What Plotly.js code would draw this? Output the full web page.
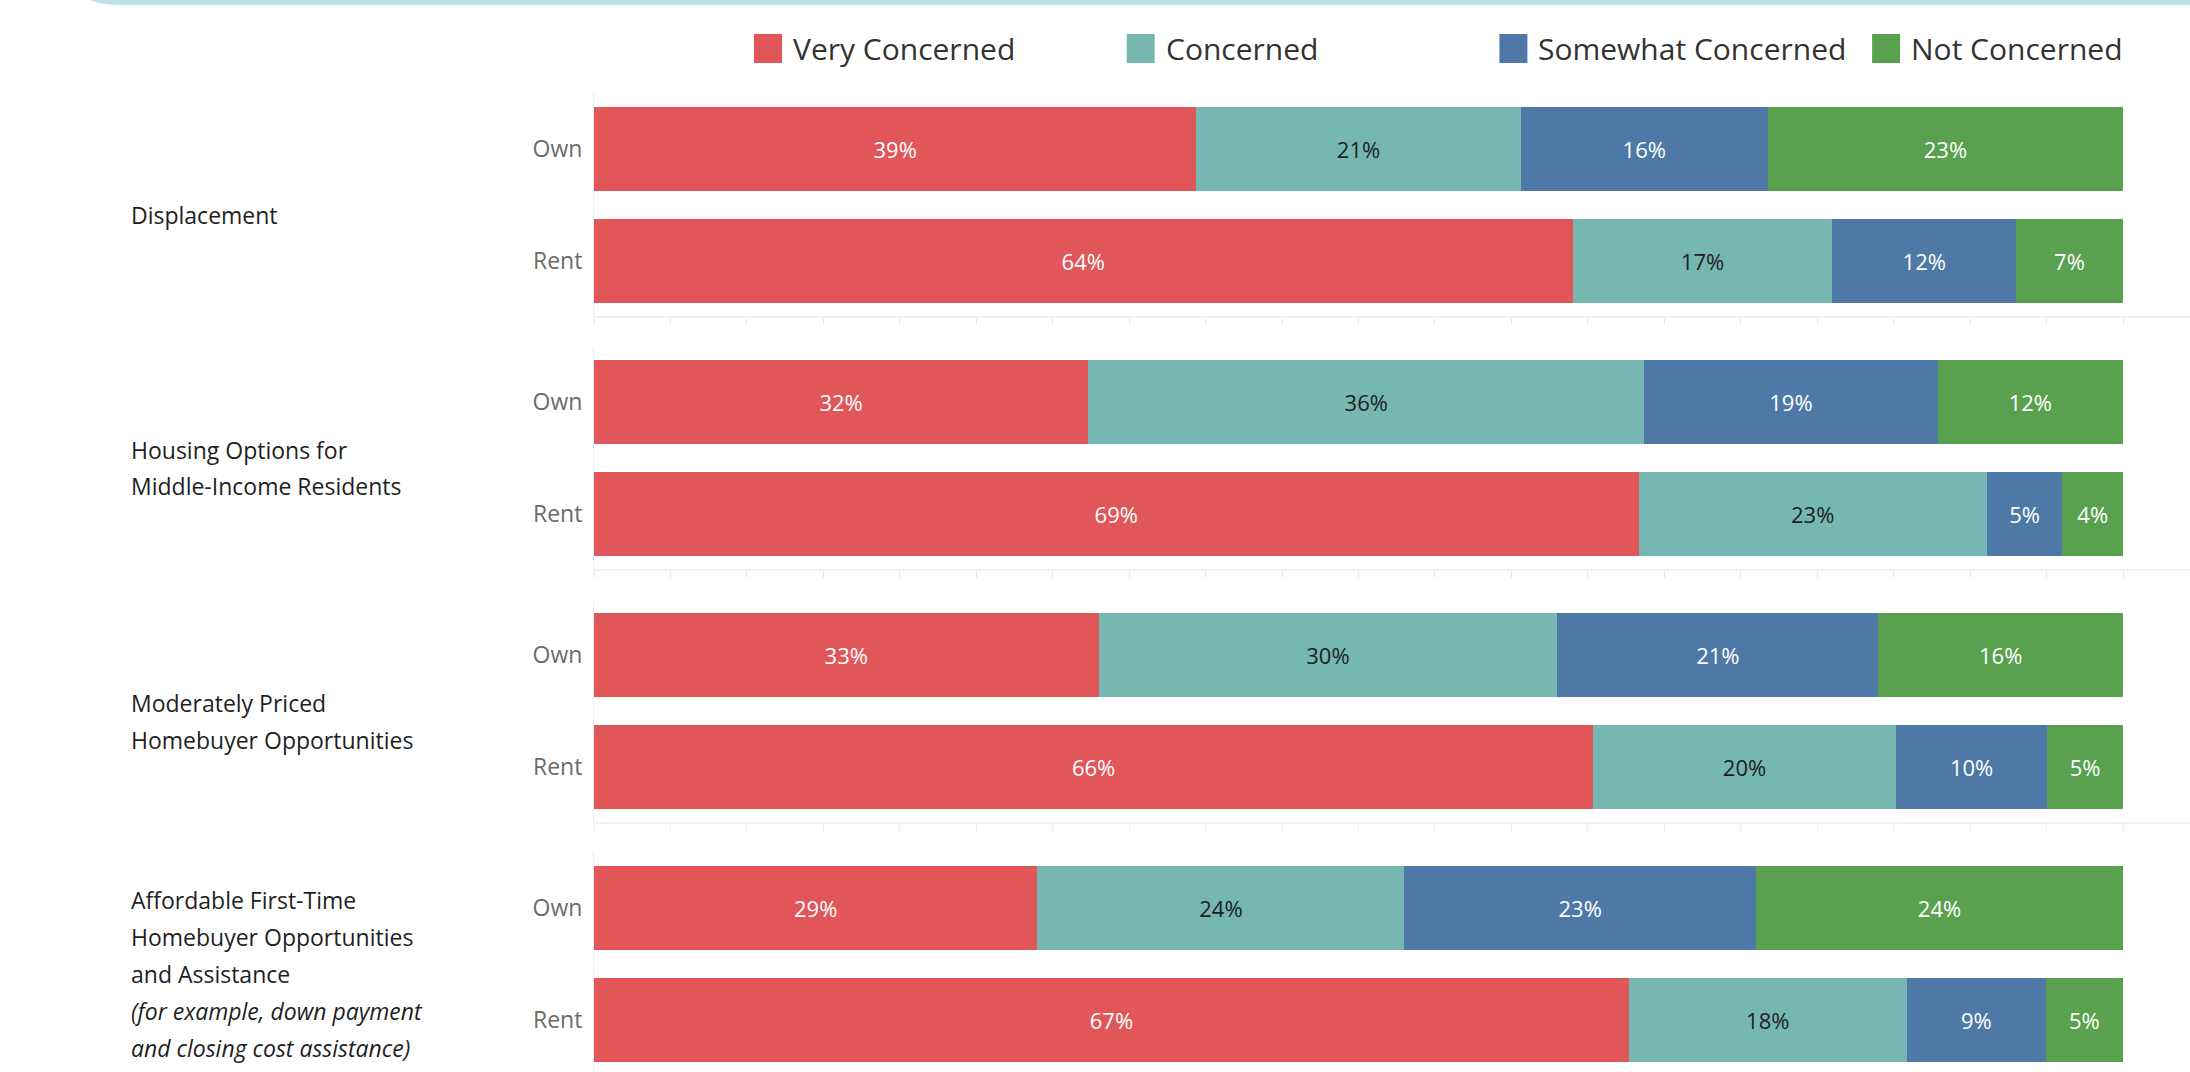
<!DOCTYPE html>
<html>
<head>
<meta charset="utf-8">
<script src="https://cdn.plot.ly/plotly-3.0.1.min.js"></script>
<style>
  html, body { margin: 0; padding: 0; background: #ffffff; }
  #chart { width: 2190px; height: 1072px; }
</style>
</head>
<body>
<div id="chart"></div>
<script>
// ---------------- DATA ----------------
const groupLabelLines = [
  ['Displacement'],
  ['Housing Options for', 'Middle-Income Residents'],
  ['Moderately Priced', 'Homebuyer Opportunities'],
  ['Affordable First-Time', 'Homebuyer Opportunities', 'and Assistance',
   '<i>(for example, down payment</i>', '<i>and closing cost assistance)</i>']
];
const tenure = ['Own', 'Rent'];
const seriesNames = ['Very Concerned', 'Concerned', 'Somewhat Concerned', 'Not Concerned'];
const seriesColors = ['#e15759', '#76b7b2', '#4e79a7', '#59a14f'];
const labelColors = ['#ffffff', '#1e1e1e', '#ffffff', '#ffffff'];

// per group: [Own, Rent]
const veryConcerned      = [[39, 64], [32, 69], [33, 66], [29, 67]];
const concerned          = [[21, 17], [36, 23], [30, 20], [24, 18]];
const somewhatConcerned  = [[16, 12], [19, 5],  [21, 10], [23, 9]];
const notConcerned       = [[23, 7],  [12, 4],  [16, 5],  [24, 5]];
const seriesValues = [veryConcerned, concerned, somewhatConcerned, notConcerned];

// ---------------- LAYOUT HELPERS ----------------
const W = 2190, H = 1072;
const px2x = p => p / W;
const px2y = p => 1 - p / H;

const plotLeft = 594, plotRight = 2123;
const paneTops = [93, 346, 599, 852];
const paneH = 224;
const catPx = paneH / 2;

const traces = [];
const layout = {
  width: W, height: H,
  margin: {l: 0, r: 0, t: 0, b: 0},
  paper_bgcolor: '#ffffff',
  plot_bgcolor: 'rgba(0,0,0,0)',
  barmode: 'stack',
  barnorm: 'fraction',
  bargap: 0.25,
  showlegend: false,
  font: {family: 'Open Sans, Noto Sans, sans-serif', color: '#333'},
  shapes: [],
  annotations: []
};

groupLabelLines.forEach((lines, g) => {
  const n = g === 0 ? '' : String(g + 1);
  const top = paneTops[g];
  const bottom = Math.min(top + paneH, H);
  layout['xaxis' + n] = {
    domain: [px2x(plotLeft), px2x(plotRight)],
    range: [0, 1],
    anchor: 'y' + n,
    showgrid: false, zeroline: false, showline: false,
    ticks: 'outside', ticklen: 7, tickwidth: 1, tickcolor: '#e9e9e9',
    tick0: 0, dtick: 0.05,
    showticklabels: false,
    fixedrange: true
  };
  layout['yaxis' + n] = {
    domain: [px2y(bottom), px2y(top)],
    anchor: 'x' + n,
    type: 'category',
    categoryorder: 'array',
    categoryarray: tenure,
    range: [-0.5 + (bottom - top) / catPx, -0.5],
    showline: true, linecolor: '#ececec', linewidth: 1,
    showgrid: false, zeroline: false,
    ticks: '',
    ticklabelstandoff: 6,
    tickfont: {size: 23, color: '#6b6b6b', family: 'Open Sans, sans-serif'},
    fixedrange: true
  };

  seriesNames.forEach((name, s) => {
    const vals = seriesValues[s][g];
    traces.push({
      type: 'bar',
      orientation: 'h',
      name: name,
      x: vals,
      y: tenure,
      xaxis: 'x' + n,
      yaxis: 'y' + n,
      marker: {color: seriesColors[s], line: {width: 0}},
      text: vals.map(v => v + '%'),
      textposition: 'inside',
      insidetextanchor: 'middle',
      constraintext: 'none',
      textangle: 0,
      textfont: {size: 22, color: labelColors[s], family: 'Open Sans, sans-serif'},
      hoverinfo: 'name+text',
      showlegend: false
    });
  });

  // pane separator line
  if (top + paneH < H) {
    layout.shapes.push({
      type: 'line', xref: 'paper', yref: 'paper',
      x0: px2x(plotLeft), x1: 1,
      y0: px2y(top + paneH), y1: px2y(top + paneH),
      line: {color: '#ececec', width: 1.5}
    });
  }

  // group label lines
  const center = top + paneH / 2 + 10;
  const spacing = 37;
  lines.forEach((txt, i) => {
    const yc = center + (i - (lines.length - 1) / 2) * spacing;
    layout.annotations.push({
      xref: 'paper', yref: 'paper',
      x: px2x(129), y: px2y(yc),
      xanchor: 'left', yanchor: 'middle',
      text: txt, showarrow: false,
      font: {size: 23, color: '#1f1f1f', family: 'Open Sans, sans-serif'}
    });
  });
});

// legend (manual, Tableau style)
const legendX0 = 754, legendStep = 372.7;
seriesNames.forEach((name, s) => {
  const x = legendX0 + s * legendStep;
  layout.shapes.push({
    type: 'rect', xref: 'paper', yref: 'paper',
    x0: px2x(x), x1: px2x(x + 28),
    y0: px2y(63), y1: px2y(34),
    fillcolor: seriesColors[s], line: {width: 0}
  });
  layout.annotations.push({
    xref: 'paper', yref: 'paper',
    x: px2x(x + 37), y: px2y(48),
    xanchor: 'left', yanchor: 'middle',
    text: name, showarrow: false,
    font: {size: 30, color: '#333333', family: 'Open Sans, sans-serif'}
  });
});

// top teal border (container edge)
layout.shapes.push({
  type: 'path', xref: 'paper', yref: 'paper',
  path: 'M ' + px2x(90) + ',' + px2y(0) +
        ' L ' + px2x(2190) + ',' + px2y(0) +
        ' L ' + px2x(2190) + ',' + px2y(5) +
        ' L ' + px2x(125) + ',' + px2y(5) +
        ' Q ' + px2x(100) + ',' + px2y(5) + ' ' + px2x(90) + ',' + px2y(0) + ' Z',
  fillcolor: '#bde3e6', line: {width: 0}
});

Plotly.newPlot('chart', traces, layout, {displayModeBar: false, staticPlot: true});
</script>
</body>
</html>
